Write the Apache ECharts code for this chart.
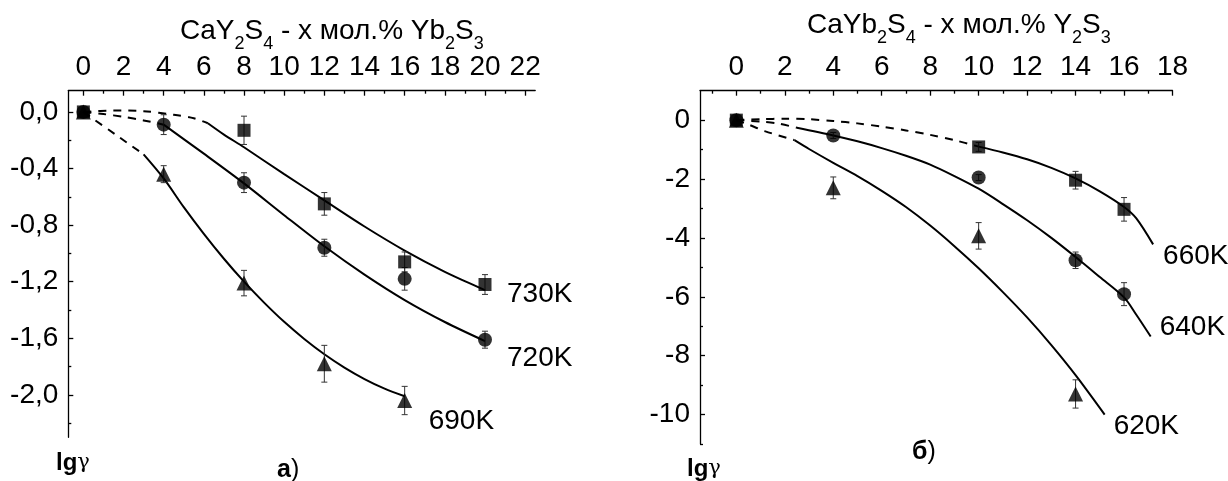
<!DOCTYPE html>
<html><head><meta charset="utf-8">
<script src="https://cdn.jsdelivr.net/npm/echarts@6/dist/echarts.min.js"></script>
<style>html,body{margin:0;padding:0;background:#fff}#c{width:1228px;height:481px}</style>
</head><body><div id="c"></div>
<script>
const FONT = '"Liberation Sans", Arial, sans-serif';

// ---------- panel а): CaY2S4 - x мол.% Yb2S3 ----------
const aPts730 = [[0,0],[8,-0.13],[12,-0.65],[16,-1.06],[20,-1.22]];
const aErr730 = [0,0.10,0.08,0.07,0.07];
const aPts720 = [[0,0],[4,-0.09],[8,-0.50],[12,-0.96],[16,-1.18],[20,-1.61]];
const aErr720 = [0,0.07,0.07,0.06,0.08,0.06];
const aPts690 = [[0,0],[4,-0.44],[8,-1.21],[12,-1.78],[16,-2.04]];
const aErr690 = [0,0.06,0.09,0.13,0.10];

const aFit730Dash = [[0,0],[1.5,0.01],[3,0.005],[4.5,-0.02],[5.5,-0.045],[6.2,-0.08]];
const aFit730 = [[6.2,-0.08],[7,-0.16],[8,-0.25],[10,-0.44],[12,-0.625],[14,-0.81],[16,-0.98],[18,-1.13],[20,-1.26]];
const aFit720Dash = [[0,0],[1,-0.015],[2,-0.035],[3,-0.06],[4,-0.09]];
const aFit720 = [[4,-0.09],[6,-0.295],[8,-0.505],[10,-0.73],[12,-0.95],[14,-1.15],[16,-1.33],[18,-1.485],[20,-1.62]];
const aFit690Dash = [[0,0],[0.5,-0.05],[1.6,-0.16],[3,-0.30]];
const aFit690 = [[3,-0.30],[4,-0.47],[5,-0.673],[6,-0.862],[7,-1.038],[8,-1.20],[9,-1.348],[10,-1.484],[11,-1.605],[12,-1.713],[13,-1.807],[14,-1.888],[15,-1.956],[16,-2.01]];

const aXRange = [-0.75, 22.5];
const aYRange = [-2.3, 0.15];
const aXMajor = [0, 22, 2];
const aXMinor = [1, 21, 2];
const aYMajor = [-2.0, 0.0, 0.4];
const aYMinor = [-2.2, -0.2, 0.4];

// ---------- panel б): CaYb2S4 - x мол.% Y2S3 ----------
const bPts660 = [[0,0],[10,-0.91],[14,-2.04],[16,-3.03]];
const bErr660 = [0,0.15,0.3,0.4];
const bPts640 = [[0,0],[4,-0.52],[10,-1.95],[14,-4.76],[16,-5.91]];
const bErr640 = [0,0.1,0.1,0.28,0.39];
const bPts620 = [[0,0],[4,-2.3],[10,-3.93],[14,-9.3]];
const bErr620 = [0,0.37,0.45,0.48];

const bFit660Dash = [[0,0],[1,0.03],[2,0.05],[3,0.03],[4,-0.03],[5,-0.11],[6,-0.22],[7,-0.35],[8,-0.5],[9,-0.68],[10,-0.9]];
const bFit660 = [[10,-0.9],[11,-1.1],[12,-1.33],[13,-1.62],[14,-1.98],[15,-2.42],[16,-2.95],[16.5,-3.33],[17.2,-4.22]];
const bFit640Dash = [[0,0],[1,-0.05],[1.7,-0.11],[2.5,-0.26]];
const bFit640 = [[2.5,-0.26],[4,-0.52],[5,-0.72],[6,-0.95],[7,-1.21],[8,-1.51],[9,-1.9],[10,-2.33],[11,-2.85],[12,-3.4],[13,-4.0],[14,-4.65],[15,-5.33],[16,-6.02],[16.5,-6.6],[17.1,-7.35]];
const bFit620Dash = [[0,0],[0.5,-0.15],[1.2,-0.38],[2.4,-0.68]];
const bFit620 = [[2.4,-0.68],[3,-0.98],[4,-1.45],[5,-1.9],[6,-2.4],[7,-2.95],[8,-3.58],[9,-4.28],[10,-5.03],[11,-5.84],[12,-6.7],[13,-7.64],[14,-8.66],[15.2,-10.0]];

const bXRange = [-1.5, 18];
const bYRange = [-11, 1];
const bXMajor = [0, 18, 2];
const bXMinor = [-1, 17, 2];
const bYMajor = [-10, 0, 2];
const bYMinor = [-11, -1, 2];

// ---------- layout ----------
const GA = {left: 68.3, top: 90.7, width: 466.9, height: 346.6};
const GB = {left: 700, top: 90.7, width: 472.5, height: 353.3};
const FS = 28;

const px = (G, XR, v) => G.left + (v - XR[0]) / (XR[1] - XR[0]) * G.width;
const py = (G, YR, v) => G.top + (YR[1] - v) / (YR[1] - YR[0]) * G.height;

const grids = [], xAxes = [], yAxes = [];
function addGrid(g) { grids.push(Object.assign({outerBoundsMode: 'none', containLabel: false, show: false}, g)); return grids.length - 1; }
const hiddenAxis = gi => ({gridIndex: gi, type: 'value', show: false, min: 0, max: 1});
const AX = {color: '#000', width: 1.3};

function buildPanel(G, XR, YR, xMaj, xMin, yMaj, yMin, yFmt) {
  const main = addGrid(G);
  xAxes.push({gridIndex: main, type: 'value', position: 'top', min: XR[0], max: XR[1],
    axisLine: {show: true, onZero: false, lineStyle: AX}, axisTick: {show: false}, axisLabel: {show: false}, splitLine: {show: false}});
  yAxes.push({gridIndex: main, type: 'value', min: YR[0], max: YR[1],
    axisLine: {show: true, onZero: false, lineStyle: AX}, axisTick: {show: false}, axisLabel: {show: false}, splitLine: {show: false}});
  [[xMaj, 5, true], [xMin, 3, false]].forEach(([t, len, lab]) => {
    const x0 = px(G, XR, t[0]), x1 = px(G, XR, t[1]);
    const gi = addGrid({left: x0, width: x1 - x0, top: G.top, height: 10});
    xAxes.push({gridIndex: gi, type: 'value', position: 'top', min: t[0], max: t[1], interval: t[2],
      axisLine: {show: false, onZero: false}, axisTick: {show: true, inside: true, length: len, lineStyle: AX},
      axisLabel: {show: lab, fontSize: FS, fontFamily: FONT, color: '#000', margin: 9}, splitLine: {show: false}});
    yAxes.push(hiddenAxis(gi));
  });
  [[yMaj, 5, true], [yMin, 3, false]].forEach(([t, len, lab]) => {
    const y0 = py(G, YR, t[1]), y1 = py(G, YR, t[0]);
    const gi = addGrid({left: G.left, width: 10, top: y0, height: y1 - y0});
    yAxes.push({gridIndex: gi, type: 'value', min: t[0], max: t[1], interval: t[2],
      axisLine: {show: false, onZero: false}, axisTick: {show: true, inside: true, length: len, lineStyle: AX},
      axisLabel: {show: lab, fontSize: FS, fontFamily: FONT, color: '#000', margin: 10, formatter: yFmt}, splitLine: {show: false}});
    xAxes.push(hiddenAxis(gi));
  });
  return main;
}

const aIdx = buildPanel(GA, aXRange, aYRange, aXMajor, aXMinor, aYMajor, aYMinor, v => Number(v).toFixed(1).replace('.', ',').replace(/^-0,0$/, '0,0'));
const bIdx = buildPanel(GB, bXRange, bYRange, bXMajor, bXMinor, bYMajor, bYMinor, v => String(Math.round(v)));

function lineS(ai, data, dashed) {
  return {type: 'line', xAxisIndex: ai, yAxisIndex: ai, data, symbol: 'none', showSymbol: false, smooth: 0.3,
    silent: true, z: 2, lineStyle: {color: '#000', width: 2, type: dashed ? [8, 7] : 'solid'}};
}
function errS(ai, pts, errs) {
  const data = pts.map((p, i) => [p[0], p[1], errs[i]]).filter(d => d[2] > 0);
  return {type: 'custom', xAxisIndex: ai, yAxisIndex: ai, data, encode: {x: 0, y: 1}, silent: true, z: 3,
    renderItem: (params, api) => {
      const x = api.value(0), y = api.value(1), e = api.value(2);
      const t = api.coord([x, y + e]), b = api.coord([x, y - e]);
      const hw = 3, st = {stroke: '#333', lineWidth: 1};
      return {type: 'group', children: [
        {type: 'line', shape: {x1: t[0], y1: t[1], x2: b[0], y2: b[1]}, style: st},
        {type: 'line', shape: {x1: t[0] - hw, y1: t[1], x2: t[0] + hw, y2: t[1]}, style: st},
        {type: 'line', shape: {x1: b[0] - hw, y1: b[1], x2: b[0] + hw, y2: b[1]}, style: st}
      ]};
    }};
}
function markS(ai, pts, symbol, size) {
  return {type: 'scatter', xAxisIndex: ai, yAxisIndex: ai, data: pts, symbol, symbolSize: size, silent: true, z: 4,
    itemStyle: {color: '#000'}};
}

const series = [
  lineS(aIdx, aFit730Dash, true), lineS(aIdx, aFit730, false),
  lineS(aIdx, aFit720Dash, true), lineS(aIdx, aFit720, false),
  lineS(aIdx, aFit690Dash, true), lineS(aIdx, aFit690, false),
  errS(aIdx, aPts730, aErr730), errS(aIdx, aPts720, aErr720), errS(aIdx, aPts690, aErr690),
  markS(aIdx, aPts730, 'rect', 13), markS(aIdx, aPts720, 'circle', 14), markS(aIdx, aPts690, 'triangle', 15),

  lineS(bIdx, bFit660Dash, true), lineS(bIdx, bFit660, false),
  lineS(bIdx, bFit640Dash, true), lineS(bIdx, bFit640, false),
  lineS(bIdx, bFit620Dash, true), lineS(bIdx, bFit620, false),
  errS(bIdx, bPts660, bErr660), errS(bIdx, bPts640, bErr640), errS(bIdx, bPts620, bErr620),
  markS(bIdx, bPts660, 'rect', 13), markS(bIdx, bPts640, 'circle', 14), markS(bIdx, bPts620, 'triangle', 15)
];

const chart = echarts.init(document.getElementById('c'), null, {renderer: 'canvas'});
chart.setOption({animation: false, backgroundColor: '#fff', grid: grids, xAxis: xAxes, yAxis: yAxes, series});

const txt = (x, y, text, size, extra) => ({type: 'text', x, y, silent: true, z: 10,
  style: Object.assign({text, fontSize: size, fontFamily: FONT, fill: '#000', align: 'left', verticalAlign: 'middle'}, extra || {})});
const endTxt = (gi, pt, text, dx, dy) => { const p = chart.convertToPixel({gridIndex: gi}, pt); return txt(p[0] + dx, p[1] + dy, text, FS); };

const subRich = {
  n: {fontSize: 28, fontFamily: FONT, fill: '#000'},
  s: {fontSize: 18, fontFamily: FONT, fill: '#000', padding: [26, 0, 0, 0]}
};
const lgRich = {
  b: {fontSize: 24, fontFamily: FONT, fontWeight: 'bold', fill: '#000'},
  g: {fontSize: 21, fontFamily: '"DejaVu Serif", serif', fill: '#000'}
};
const pRich = {
  b: {fontSize: 25, fontFamily: FONT, fontWeight: 'bold', fill: '#000'},
  r: {fontSize: 25, fontFamily: FONT, fill: '#000'}
};

chart.setOption({graphic: [
  txt(180, 31, '{n|CaY}{s|2}{n|S}{s|4}{n| - x мол.% Yb}{s|2}{n|S}{s|3}', 28, {rich: subRich}),
  txt(807, 25, '{n|CaYb}{s|2}{n|S}{s|4}{n| - x мол.% Y}{s|2}{n|S}{s|3}', 28, {rich: subRich}),
  endTxt(aIdx, aFit730[aFit730.length - 1], '730K', 22, 4),
  endTxt(aIdx, aFit720[aFit720.length - 1], '720K', 22, 17),
  endTxt(aIdx, aFit690[aFit690.length - 1], '690K', 24, 25),
  endTxt(bIdx, bFit660[bFit660.length - 1], '660K', 10, 12),
  endTxt(bIdx, bFit640[bFit640.length - 1], '640K', 9, -9),
  endTxt(bIdx, bFit620[bFit620.length - 1], '620K', 9, 12),
  txt(56, 463, '{b|lg}{g|γ}', 24, {rich: lgRich}),
  txt(687, 469, '{b|lg}{g|γ}', 24, {rich: lgRich}),
  txt(277, 470, '{b|а}{r|)}', 25, {rich: pRich}),
  txt(912, 452, '{b|б}{r|)}', 25, {rich: pRich})
]});
</script></body></html>
